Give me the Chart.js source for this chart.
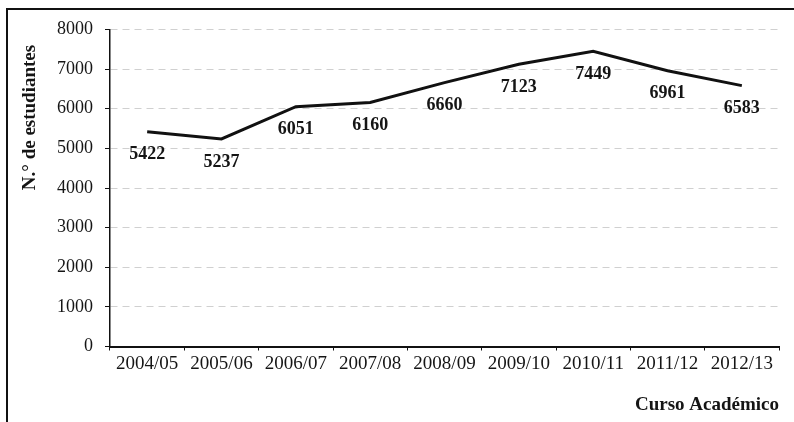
<!DOCTYPE html>
<html>
<head>
<meta charset="utf-8">
<script src="https://cdn.jsdelivr.net/npm/chart.js@4"></script>
<style>
  html, body { margin: 0; padding: 0; background: #fff; overflow: hidden; }
  #marco {
    position: absolute; left: 6px; top: 8px; width: 900px; height: 500px;
    border-left: 2px solid #111; border-top: 2px solid #111;
  }
  #caja { position: absolute; left: 0; top: 0; width: 794px; height: 422px; }
</style>
</head>
<body>
<div id="marco"></div>
<div id="caja"><canvas id="grafico" width="794" height="422"></canvas></div>
<script>
// --- DATOS ---
const cursos = ['2004/05', '2005/06', '2006/07', '2007/08', '2008/09', '2009/10', '2010/11', '2011/12', '2012/13'];
const estudiantes = [5422, 5237, 6051, 6160, 6660, 7123, 7449, 6961, 6583];
const tituloY = 'N.\u00b0 de estudiantes';
const tituloX = 'Curso Acad\u00e9mico';

const fuente = '"Liberation Serif", "Times New Roman", serif';

// Etiquetas de valor debajo de cada punto
const etiquetasValor = {
    id: 'etiquetasValor',
    afterDatasetsDraw(chart) {
        const ctx = chart.ctx;
        const meta = chart.getDatasetMeta(0);
        ctx.save();
        ctx.font = 'bold 18px ' + fuente;
        ctx.fillStyle = '#151515';
        ctx.textAlign = 'center';
        ctx.textBaseline = 'middle';
        meta.data.forEach((pt, i) => {
            ctx.fillText(String(estudiantes[i]), pt.x, pt.y + 23);
        });
        ctx.restore();
    }
};

// Título del eje Y (rotado)
const tituloEjeY = {
    id: 'tituloEjeY',
    afterDraw(chart) {
        const ctx = chart.ctx;
        const area = chart.chartArea;
        ctx.save();
        ctx.translate(area.left - 80, area.top + 88);
        ctx.rotate(-Math.PI / 2);
        ctx.font = 'bold 19px ' + fuente;
        ctx.fillStyle = '#151515';
        ctx.textAlign = 'center';
        ctx.textBaseline = 'middle';
        ctx.fillText(tituloY, 0, 0);
        ctx.restore();
    }
};

const grafico = document.getElementById('grafico');
const chart = new Chart(grafico, {
    type: 'line',
    data: {
        labels: cursos,
        datasets: [{
            label: tituloY,
            data: estudiantes,
            borderColor: '#111',
            borderWidth: 3,
            pointRadius: 0,
            fill: false,
            tension: 0
        }]
    },
    options: {
        responsive: false,
        animation: false,
        layout: { padding: { left: 0, top: 29.5, right: 15, bottom: 0 } },
        plugins: {
            legend: { display: false },
            tooltip: { enabled: false }
        },
        scales: {
            x: {
                offset: true,
                afterFit: (s) => { s.height = 75.5; },
                grid: { drawOnChartArea: false, offset: true, tickLength: 4, tickColor: '#111', color: '#111' },
                border: { color: '#111', width: 2 },
                ticks: { color: '#151515', font: { family: fuente, size: 19 }, padding: 2, maxRotation: 0, autoSkip: false },
                title: {
                    display: true, text: tituloX, align: 'end', color: '#151515',
                    font: { family: fuente, size: 19, weight: 'bold' },
                    padding: { top: 0, bottom: 6 }
                }
            },
            y: {
                min: 0,
                max: 8000,
                afterFit: (s) => { s.width = 110; },
                grid: { color: '#d0d0d0', lineWidth: 1, tickColor: '#111', tickLength: 5 },
                border: { color: '#111', width: 1.5, dash: [7, 5] },
                ticks: {
                    stepSize: 1000, color: '#151515', font: { family: fuente, size: 18 }, padding: 12,
                    callback: (v) => String(v)
                }
            }
        }
    },
    plugins: [etiquetasValor, tituloEjeY]
});
</script>
</body>
</html>
